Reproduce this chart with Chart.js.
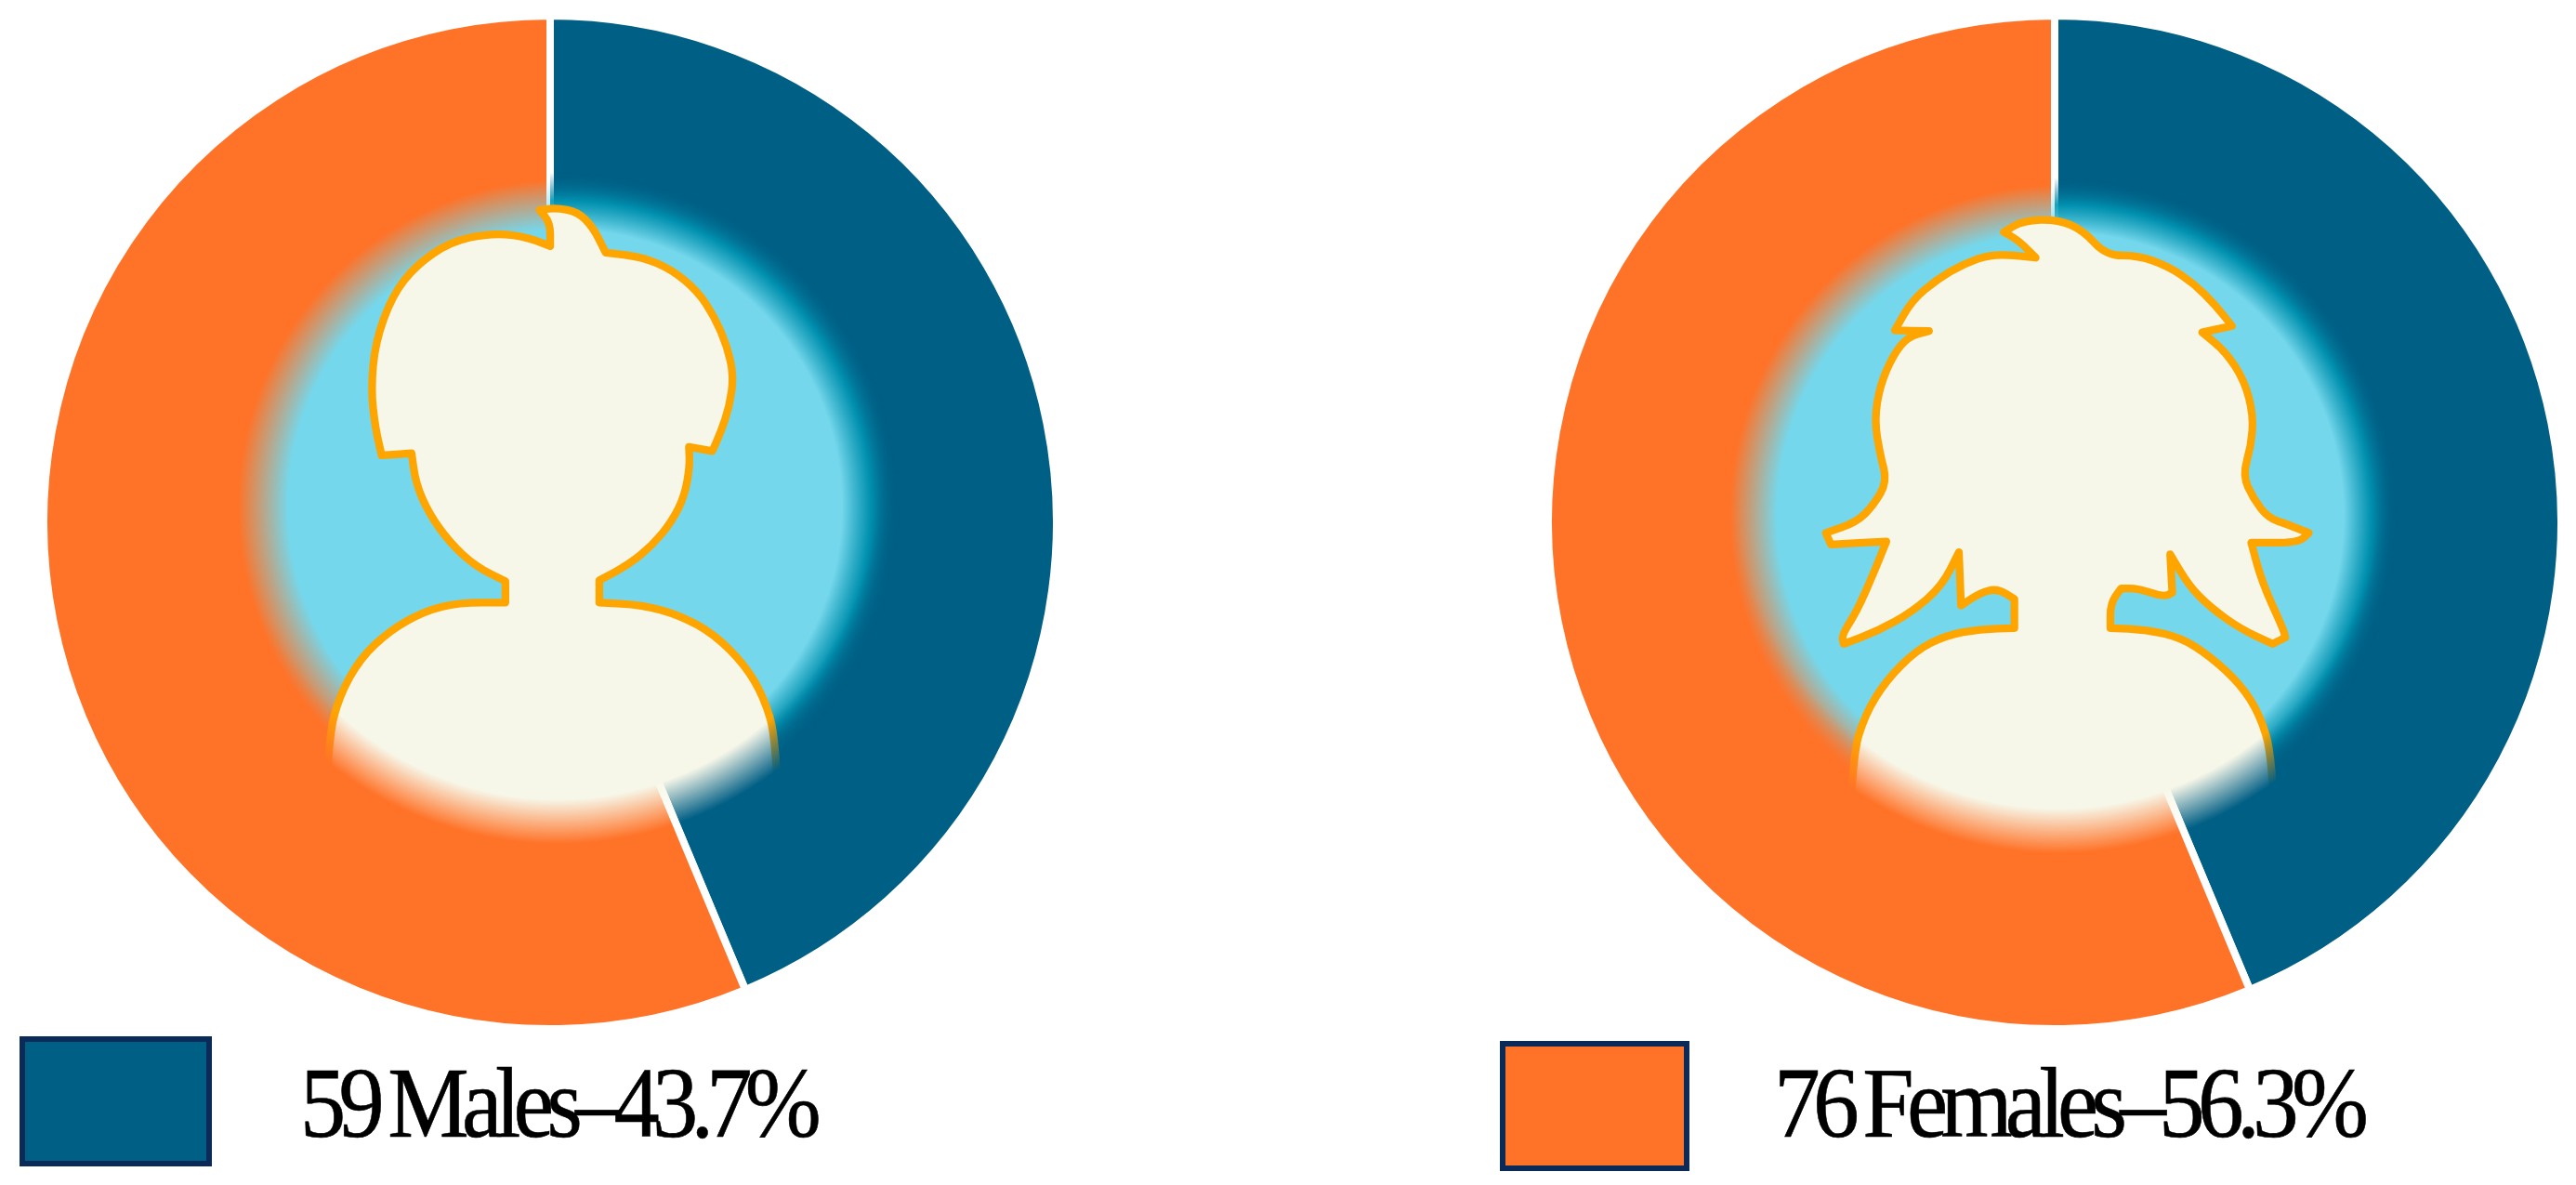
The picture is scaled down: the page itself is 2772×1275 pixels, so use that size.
<!DOCTYPE html>
<html><head><meta charset="utf-8">
<script src="https://cdn.jsdelivr.net/npm/chart.js@4"></script>
<style>
html,body{margin:0;padding:0;background:#fff;width:2772px;height:1275px;overflow:hidden}
canvas{position:absolute}
.sw{position:absolute;box-sizing:border-box;border:6px solid #0B2A57}
.lb{position:absolute;font-family:"Liberation Serif",serif;font-size:108px;line-height:1;color:#000;white-space:nowrap;letter-spacing:-8.5px;word-spacing:-6px;transform-origin:0 0;-webkit-text-stroke:0.6px #000}
</style></head><body>
<canvas id="c0" width="1100" height="1100" style="left:42px;top:12px"></canvas>
<canvas id="c1" width="1100" height="1100" style="left:1661px;top:12px"></canvas>
<script>
const categories=['Males','Females'];
const counts=[59,76];
const percents=[43.7,56.3];
const colors=['#005F85','#FF7328'];

const malePath=[[720,100],[760,95],[810,105],[845,140],[875,200],[960,210],[1030,240],[1090,290],[1130,350],[1160,420],[1175,490],[1165,560],[1145,620],[1125,665],[1070,655],[1072,700],[1060,770],[1030,830],[985,885],[930,930],[860,968],[860,1020],[960,1025],[1050,1050],[1130,1095],[1200,1165],[1245,1240],[1275,1340],[1285,1700],[210,1700],[225,1340],[250,1240],[300,1150],[370,1085],[450,1040],[530,1020],[640,1020],[640,970],[570,935],[510,880],[460,810],[430,740],[420,670],[350,675],[335,610],[325,520],[335,410],[375,300],[430,230],[510,175],[600,155],[680,160],[745,185],[745,130]];
const femalePath=[[645,130],[690,103],[770,100],[830,125],[885,185],[960,185],[1030,210],[1090,250],[1140,300],[1180,350],[1110,365],[1165,410],[1210,480],[1230,560],[1225,630],[1205,700],[1230,755],[1265,800],[1310,815],[1360,835],[1335,858],[1225,858],[1250,950],[1300,1060],[1305,1080],[1275,1095],[1200,1060],[1130,1010],[1080,960],[1035,885],[1040,975],[1020,985],[960,965],[920,965],[895,1000],[895,1058],[980,1062],[1060,1080],[1130,1125],[1200,1190],[1245,1260],[1275,1360],[1285,1700],[280,1700],[290,1360],[320,1260],[370,1180],[440,1110],[510,1075],[590,1060],[670,1058],[670,990],[630,965],[590,975],[545,1005],[540,880],[500,960],[430,1020],[350,1065],[270,1095],[265,1075],[300,1020],[340,930],[370,855],[240,862],[228,835],[300,810],[340,770],[372,715],[355,650],[342,570],[355,490],[385,420],[420,375],[470,362],[390,360],[430,290],[490,240],[550,205],[620,180],[720,190],[680,150]];

const figures=[
 {path:malePath,ox:250,oy:180,sky:[608,545,298,352],mask:[600,515,345,393]},
 {path:femalePath,ox:1860,oy:190,sky:[2217,555,305,356],mask:[2215,525,345,393]}
];
const Z=1568/720;

function tracePath(g,pts){
 const n=pts.length;
 const mid=(a,b)=>[(a[0]+b[0])/2,(a[1]+b[1])/2];
 let m=mid(pts[n-1],pts[0]);
 g.beginPath();g.moveTo(m[0],m[1]);
 for(let i=0;i<n;i++){
  const p=pts[(i+n-1)%n],c=pts[i],x=pts[(i+1)%n];
  const a1=Math.atan2(c[1]-p[1],c[0]-p[0]),a2=Math.atan2(x[1]-c[1],x[0]-c[0]);
  let d=Math.abs(a2-a1);if(d>Math.PI)d=2*Math.PI-d;
  const e=mid(c,x);
  if(d>0.9){g.lineTo(c[0],c[1]);g.lineTo(e[0],e[1]);}
  else g.quadraticCurveTo(c[0],c[1],e[0],e[1]);
 }
 g.closePath();
}

function figurePlugin(fig,left,top){
 return {id:'figure',afterDraw(chart){
  const off=document.createElement('canvas');off.width=chart.width;off.height=chart.height;
  const g=off.getContext('2d');
  const arc=chart.getDatasetMeta(0).data[0];
  g.translate(-left,-top);
  const [sx,sy,s0,s1]=fig.sky;
  const sg=g.createRadialGradient(sx,sy,s0,sx,sy,s1);
  sg.addColorStop(0,'rgba(117,215,235,1)');sg.addColorStop(1,'rgba(117,215,235,0)');
  const tg=g.createRadialGradient(sx,sy,s0,sx,sy,s1+8);
  tg.addColorStop(0,'rgba(117,215,235,1)');
  tg.addColorStop(0.5,'rgba(0,150,180,0.9)');
  tg.addColorStop(1,'rgba(0,95,133,0)');
  const cx=arc.x+left,cy=arc.y+top;
  g.beginPath();g.moveTo(cx,cy);g.arc(cx,cy,800,arc.endAngle,arc.startAngle+2*Math.PI);g.closePath();
  g.fillStyle=sg;g.fill();
  g.beginPath();g.moveTo(cx,cy);g.arc(cx,cy,800,arc.startAngle,arc.endAngle);g.closePath();
  g.fillStyle=tg;g.fill();
  g.save();
  g.translate(fig.ox,fig.oy);g.scale(1/Z,1/Z);
  tracePath(g,fig.path);
  g.fillStyle='#F7F7E9';g.fill();
  g.strokeStyle='#FFA500';g.lineWidth=18;g.lineJoin='round';g.stroke();
  g.restore();
  const [mx,my,m0,m1]=fig.mask;
  g.globalCompositeOperation='destination-in';
  const mg=g.createRadialGradient(mx,my,m0,mx,my,m1);
  mg.addColorStop(0,'rgba(0,0,0,1)');mg.addColorStop(1,'rgba(0,0,0,0)');
  g.fillStyle=mg;g.fillRect(left,top,off.width,off.height);
  chart.ctx.drawImage(off,0,0);
 }};
}

[0,1].forEach(i=>{
 const el=document.getElementById('c'+i);
 const left=i?1661:42,top=12;
 new Chart(el,{type:'doughnut',
  data:{labels:categories,datasets:[{data:counts,backgroundColor:colors,borderColor:'#fff',borderWidth:8,hoverOffset:0}]},
  options:{responsive:false,animation:false,devicePixelRatio:1,radius:545,cutout:'50%',rotation:0,
   layout:{padding:0},plugins:{legend:{display:false},tooltip:{enabled:false}}},
  plugins:[figurePlugin(figures[i],left,top)]});
});

const legendBoxes=[[21,1115,207,140],[1614,1120,204,140]];
const legendText=[[323,1133,553],[1909,1133,632]];
categories.forEach((c,i)=>{
 const s=document.createElement('div');s.className='sw';
 const b=legendBoxes[i];
 s.style.cssText=`left:${b[0]}px;top:${b[1]}px;width:${b[2]}px;height:${b[3]}px;background:${colors[i]}`;
 document.body.appendChild(s);
 const t=document.createElement('div');t.className='lb';
 t.textContent=`${counts[i]} ${c}–${percents[i]}%`;
 const p=legendText[i];
 t.style.left=p[0]+'px';t.style.top=p[1]+'px';
 document.body.appendChild(t);
 t.style.transform=`scaleX(${p[2]/t.getBoundingClientRect().width})`;
});
</script>
</body></html>
